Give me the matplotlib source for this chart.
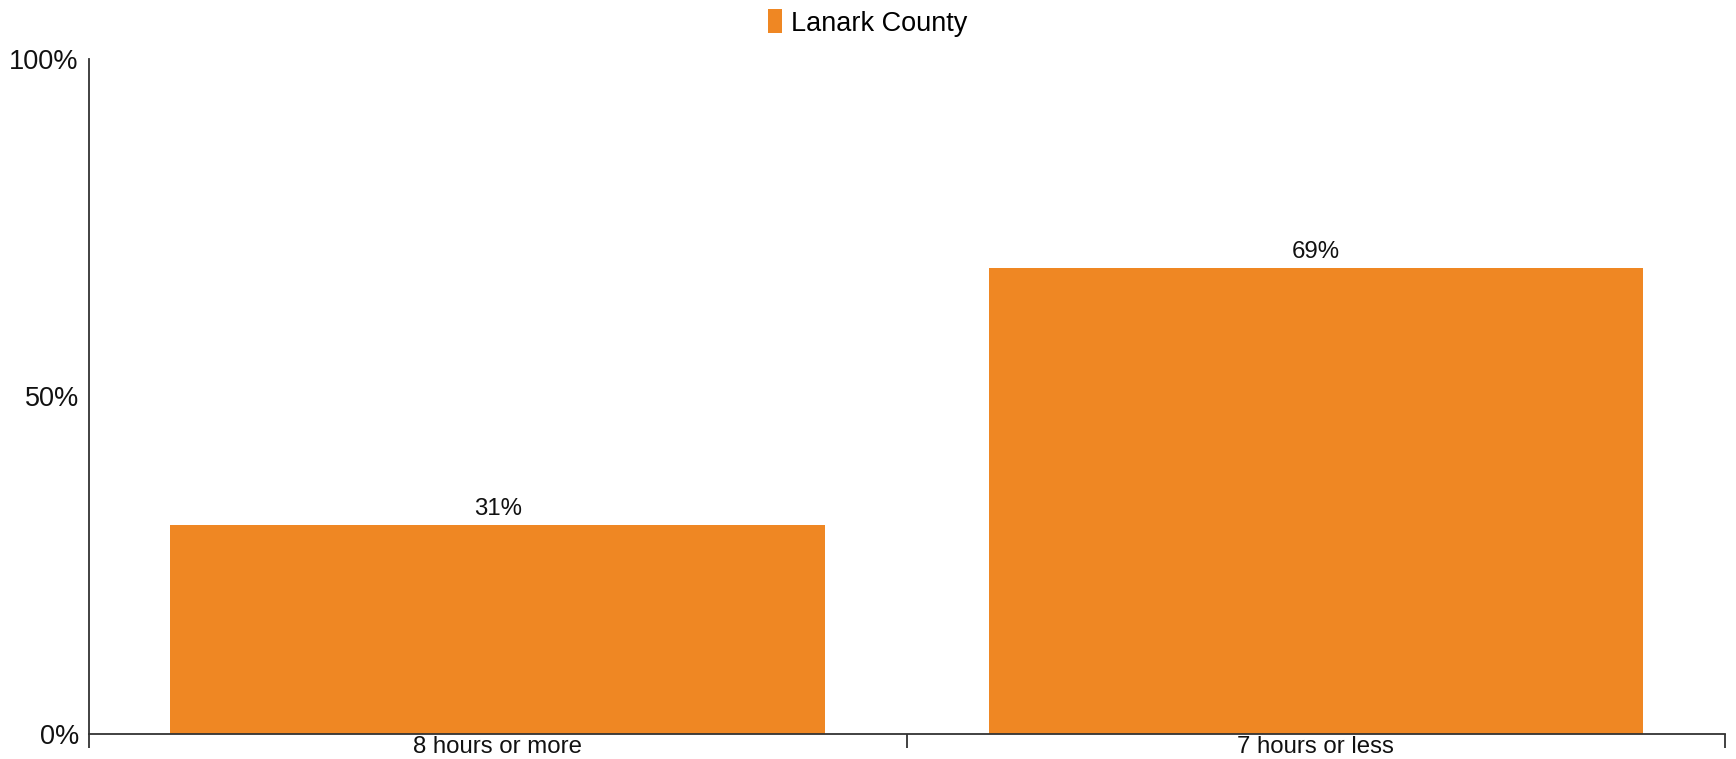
import matplotlib
matplotlib.use("Agg")
import matplotlib.pyplot as plt
from matplotlib.patches import Patch

categories = ["8 hours or more", "7 hours or less"]
values = [31, 69]
series_name = "Lanark County"
yticks = [0, 50, 100]
ytick_labels = ["0%", "50%", "100%"]

plt.rcParams['font.family'] = ['Liberation Sans', 'DejaVu Sans']
color = "#EF8723"
axis_color = "#333333"

fig = plt.figure(figsize=(17.36, 7.59), dpi=100)
ax = fig.add_axes([0.051, 0.0333, 0.9427, 0.889])

x = list(range(len(categories)))
bars = ax.bar(x, values, width=0.8, color=color, zorder=2)
ax.bar_label(bars, labels=[f"{v}%" for v in values], padding=3.5, fontsize=17.3, color="#111111")

ax.set_xlim(-0.5, len(categories) - 0.5)
ax.set_ylim(0, 100)
ax.set_yticks(yticks)
ax.set_yticklabels(ytick_labels, fontsize=19.5, color="#111111")
ax.tick_params(axis='y', length=0, pad=7)

ax.set_xticks([i - 0.5 for i in range(len(categories) + 1)])
ax.set_xticklabels([""] * (len(categories) + 1))
ax.tick_params(axis='x', which='major', length=10, width=1.3, color=axis_color)
ax.set_xticks(x, minor=True)
ax.set_xticklabels(categories, minor=True, fontsize=17.3, color="#111111")
ax.tick_params(axis='x', which='minor', length=0, pad=1.5)

for s in ['top', 'right']:
    ax.spines[s].set_visible(False)
for s in ['left', 'bottom']:
    ax.spines[s].set_color(axis_color)
    ax.spines[s].set_linewidth(1.3)

handle = Patch(facecolor=color, edgecolor='none')
fig.legend([handle], [series_name], loc='upper center', bbox_to_anchor=(0.5, 1.02),
           frameon=False, fontsize=19.5, handlelength=0.5, handleheight=1.0,
           handletextpad=0.35)

fig.savefig("out.png", dpi=100, facecolor="white")
